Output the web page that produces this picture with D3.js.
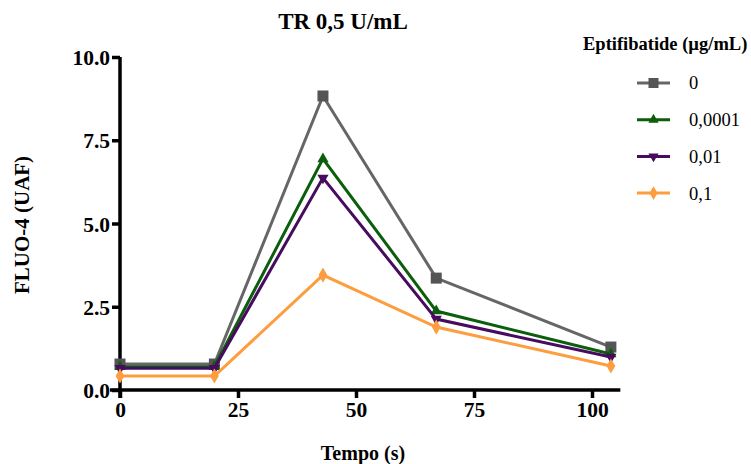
<!DOCTYPE html>
<html>
<head>
<meta charset="utf-8">
<script src="https://cdn.jsdelivr.net/npm/d3@7"></script>
<style>
  body { margin: 0; background: #fff; }
  svg { font-family: "Liberation Serif", "Times New Roman", serif; }
</style>
</head>
<body>
<svg id="chart"></svg>
<script>
const width = 751;
const height = 464;

const times = [0, 20, 43, 67, 104];
const seriesNames = ["0", "0,0001", "0,01", "0,1"];
const serie0 = [0.78, 0.78, 8.83, 3.36, 1.29];
const serie0001 = [0.70, 0.70, 6.94, 2.37, 1.08];
const serie001 = [0.65, 0.65, 6.37, 2.13, 0.99];
const serie01 = [0.42, 0.42, 3.45, 1.89, 0.72];
const xTicks = [0, 25, 50, 75, 100];
const yTicks = [0, 2.5, 5, 7.5, 10];

const colors = ["#666666", "#0b5e0b", "#470c5f", "#fd9d3f"];
const markerColors = ["#555555", "#0b5e0b", "#470c5f", "#fd9d3f"];
const symbols = ["square", "up", "down", "diamond"];
const allSeries = [serie0, serie0001, serie001, serie01];

const svg = d3.select("#chart")
    .attr("width", width)
    .attr("height", height);

const xScale = d3.scaleLinear().domain([0, 100]).range([120, 592]);
const yScale = d3.scaleLinear().domain([0, 10]).range([390, 57]);

// axes
const xAxis = d3.axisBottom(xScale).tickValues(xTicks).tickSize(8).tickPadding(4).tickSizeOuter(0);
const yAxis = d3.axisLeft(yScale).tickValues(yTicks).tickFormat(d3.format(".1f")).tickSize(8).tickPadding(2).tickSizeOuter(0);

const gx = svg.append("g").attr("transform", "translate(0,390)").call(xAxis);
gx.select(".domain").remove();
gx.append("line").attr("x1", 110).attr("x2", xScale(106)).attr("y1", 0).attr("y2", 0)
    .attr("stroke", "#000").attr("stroke-width", 3.5);

const gy = svg.append("g").attr("transform", "translate(120,0)").call(yAxis);
gy.select(".domain").remove();
gy.append("line").attr("x1", 0).attr("x2", 0).attr("y1", yScale(10)).attr("y2", 398)
    .attr("stroke", "#000").attr("stroke-width", 3.5);

[gx, gy].forEach(g => {
  g.attr("font-size", 21.5).attr("font-family", "'Liberation Serif', serif").attr("font-weight", "bold");
  g.selectAll(".tick line").attr("stroke", "#000").attr("stroke-width", 3.5);
  g.selectAll(".tick text").attr("fill", "#000");
});
gy.selectAll(".tick text").attr("dy", "0.35em");

// lines and markers
const line = d3.line().x((d, i) => xScale(times[i])).y(d => yScale(d));

function drawMarker(g, type, x, y, color, size) {
  if (type === "square") {
    g.append("rect").attr("x", x - size / 2).attr("y", y - size / 2)
      .attr("width", size).attr("height", size).attr("fill", color);
  } else {
    const sym = type === "diamond" ? d3.symbolDiamond : d3.symbolTriangle;
    const area = type === "diamond" ? size * size * 0.55 : size * size * 0.45;
    g.append("path").attr("d", d3.symbol().type(sym).size(area)())
      .attr("transform", `translate(${x},${y}) rotate(${type === "down" ? 180 : 0})`)
      .attr("fill", color);
  }
}

allSeries.forEach((vals, s) => {
  svg.append("path").datum(vals).attr("d", line)
    .attr("fill", "none").attr("stroke", colors[s]).attr("stroke-width", 3)
    .attr("stroke-linejoin", "miter");
  const g = svg.append("g");
  vals.forEach((v, i) => drawMarker(g, symbols[s], xScale(times[i]), yScale(v), markerColors[s], 11));
});

// titles
svg.append("text").attr("x", 343).attr("y", 29).attr("text-anchor", "middle")
    .style("font-size", "23px").style("font-weight", "bold").text("TR 0,5 U/mL");
svg.append("text").attr("x", 363).attr("y", 460).attr("text-anchor", "middle")
    .style("font-size", "20px").style("font-weight", "bold").text("Tempo (s)");
svg.append("text").attr("transform", "translate(29,225) rotate(-90)").attr("text-anchor", "middle")
    .style("font-size", "21px").style("font-weight", "bold").text("FLUO-4 (UAF)");

// legend
svg.append("text").attr("x", 583).attr("y", 50)
    .style("font-size", "18.5px").style("font-weight", "bold").text("Eptifibatide (µg/mL)");
seriesNames.forEach((name, s) => {
  const y = 83 + s * 36.7;
  svg.append("line").attr("x1", 637).attr("x2", 670).attr("y1", y).attr("y2", y)
    .attr("stroke", colors[s]).attr("stroke-width", 3);
  drawMarker(svg, symbols[s], 653.5, y, markerColors[s], 10);
  svg.append("text").attr("x", 689).attr("y", y).attr("dy", "0.35em")
    .style("font-size", "18.5px").text(name);
});
</script>
</body>
</html>
